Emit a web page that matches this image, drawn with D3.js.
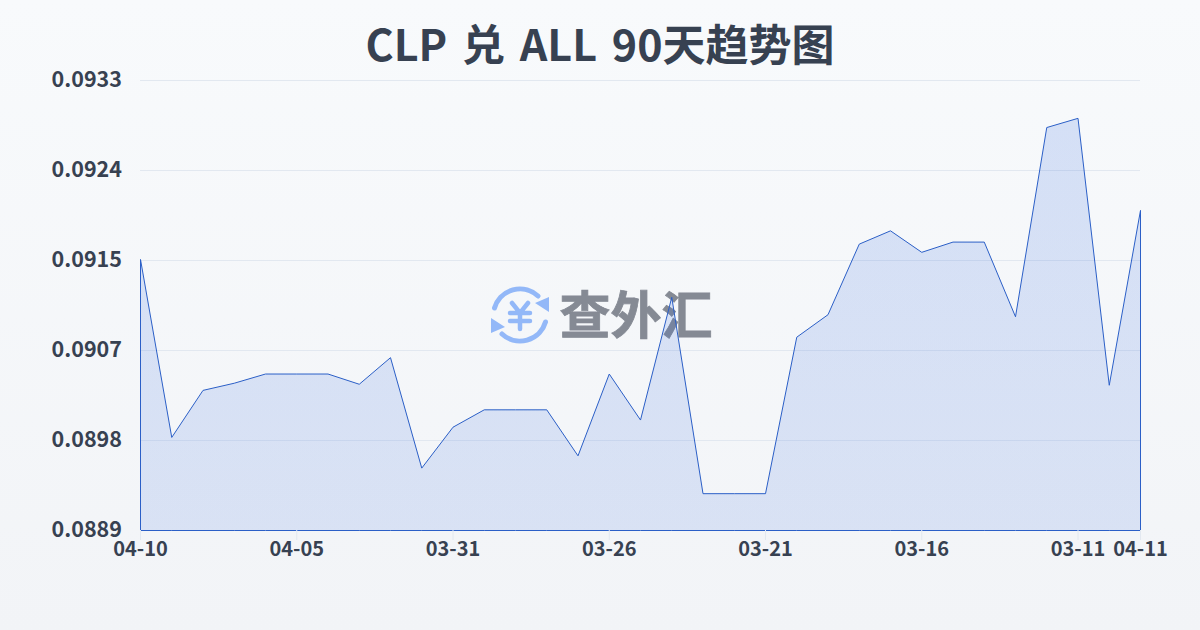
<!DOCTYPE html>
<html>
<head>
<meta charset="utf-8">
<script src="https://cdn.jsdelivr.net/npm/d3@7"></script>
<style>
  html, body { margin: 0; padding: 0; background: #f8fafc; }
  svg { display: block; font-family: "Noto Sans CJK SC", sans-serif; }
</style>
</head>
<body>
<div id="chart"></div>
<script>
const title = "CLP 兑 ALL 90天趋势图";
const watermark = "查外汇";
const dates = ["04-10","04-09","04-08","04-07","04-06","04-05","04-04","04-03","04-02","04-01","03-31",
  "03-30","03-29","03-28","03-27","03-26","03-25","03-24","03-23","03-22","03-21",
  "03-20","03-19","03-18","03-17","03-16","03-15","03-14","03-13","03-12","03-11","03-10","04-11"];
const rates = [0.09155,0.08981,0.09027,0.09034,0.09043,0.09043,0.09043,0.09033,0.09059,0.08951,0.08991,
  0.09008,0.09008,0.09008,0.08963,0.09043,0.08998,0.09118,0.08926,0.08926,0.08926,
  0.09079,0.09101,0.09170,0.09183,0.09162,0.09172,0.09172,0.09099,0.09284,0.09293,0.09032,0.09203];
const xTickLabels = ["04-10","04-05","03-31","03-26","03-21","03-16","03-11","04-11"];
const yTicks = [0.0889,0.08978,0.09066,0.09154,0.09242,0.0933];

const width = 1200, height = 630;
const margin = {top: 80, right: 60, bottom: 100, left: 140};

const svg = d3.select("#chart").append("svg")
  .attr("width", width)
  .attr("height", height)
  .attr("viewBox", `0 0 ${width} ${height}`);

// Background and area gradients
const defs = svg.append("defs");
const bg = defs.append("linearGradient").attr("id", "bg")
  .attr("x1", 0).attr("y1", 0).attr("x2", 0).attr("y2", 1);
bg.append("stop").attr("offset", "0%").attr("stop-color", "#f8fafc");
bg.append("stop").attr("offset", "100%").attr("stop-color", "#f2f4f7");
const fill = defs.append("linearGradient").attr("id", "areaFill")
  .attr("gradientUnits", "userSpaceOnUse")
  .attr("x1", 0).attr("y1", margin.top).attr("x2", 0).attr("y2", height - margin.bottom);
fill.append("stop").attr("offset", "0%").attr("stop-color", "#2a62dc").attr("stop-opacity", 0.17);
fill.append("stop").attr("offset", "100%").attr("stop-color", "#2a62dc").attr("stop-opacity", 0.13);

svg.append("rect").attr("width", width).attr("height", height).attr("fill", "url(#bg)");

// Scales
const x = d3.scalePoint()
  .domain(d3.range(dates.length))
  .range([margin.left, width - margin.right]);
const y = d3.scaleLinear()
  .domain([yTicks[0], yTicks[yTicks.length - 1]])
  .range([height - margin.bottom, margin.top]);

// Title
svg.append("text")
  .attr("x", width / 2)
  .attr("y", 61)
  .attr("text-anchor", "middle")
  .attr("fill", "#374151")
  .style("font-size", "43px")
  .style("font-weight", 700)
  .style("word-spacing", "5px")
  .text(title);

// Grid and y labels
const yAxis = svg.append("g")
  .attr("transform", `translate(${margin.left},0)`)
  .call(d3.axisLeft(y).tickValues(yTicks).tickFormat(d3.format(".4f"))
    .tickSize(-(width - margin.left - margin.right)).tickPadding(18));
yAxis.select(".domain").remove();
yAxis.selectAll("line").attr("stroke", "#e2e8f0");
yAxis.selectAll("text")
  .attr("fill", "#374151")
  .attr("dy", "0.3em")
  .style("font-size", "21.5px")
  .style("font-weight", 700)
  .style("font-family", "'Noto Sans CJK SC', sans-serif");

// Watermark: icon and name
const logo = svg.append("g")
  .attr("transform", "translate(520,315)")
  .attr("fill", "none")
  .attr("stroke", "#93b8f8")
  .attr("stroke-width", 5)
  .attr("stroke-linecap", "round");
logo.append("path").attr("d", "M-25.5,-7 A26.5,26.5 0 0 1 18,-19");
logo.append("path").attr("d", "M25.5,7 A26.5,26.5 0 0 1 -18,19");
logo.append("path").attr("d", "M29,-18 L29,-3 L15,-12 Z").attr("fill", "#93b8f8").attr("stroke", "none");
logo.append("path").attr("d", "M-29,18 L-29,3 L-15,12 Z").attr("fill", "#93b8f8").attr("stroke", "none");
logo.append("path").attr("d", "M-8,-12 L0,-2 L8,-12 M-10,-2 H10 M-10,6 H10 M0,-2 V14").attr("stroke-width", 4.5);

svg.append("text")
  .attr("x", 636)
  .attr("y", 334)
  .attr("text-anchor", "middle")
  .attr("fill", "#858a94")
  .attr("stroke", "#858a94")
  .attr("stroke-width", 0.8)
  .style("font-size", "51px")
  .style("font-weight", 700)
  .text(watermark);

// Area
const area = d3.area()
  .x((d, i) => x(i))
  .y0(y(yTicks[0]))
  .y1(d => y(d));
svg.append("path")
  .datum(rates)
  .attr("d", d => area(d))
  .attr("transform", "translate(0.5,0.5)")
  .attr("fill", "url(#areaFill)")
  .attr("stroke", "#2b5fc7")
  .attr("stroke-width", 1);

// X axis, only the labelled dates get a tick
const tickIdx = xTickLabels.map(l => dates.indexOf(l));
const xAxis = svg.append("g")
  .attr("transform", `translate(0,${height - margin.bottom})`)
  .call(d3.axisBottom(x).tickValues(tickIdx).tickFormat(i => dates[i]).tickSize(10).tickPadding(2));
xAxis.select(".domain").remove();
xAxis.selectAll("line").attr("stroke", "#e2e8f0");
xAxis.selectAll("text")
  .attr("fill", "#374151")
  .style("font-size", "20px")
  .style("font-weight", 700)
  .style("font-family", "'Noto Sans CJK SC', sans-serif");
</script>
</body>
</html>
